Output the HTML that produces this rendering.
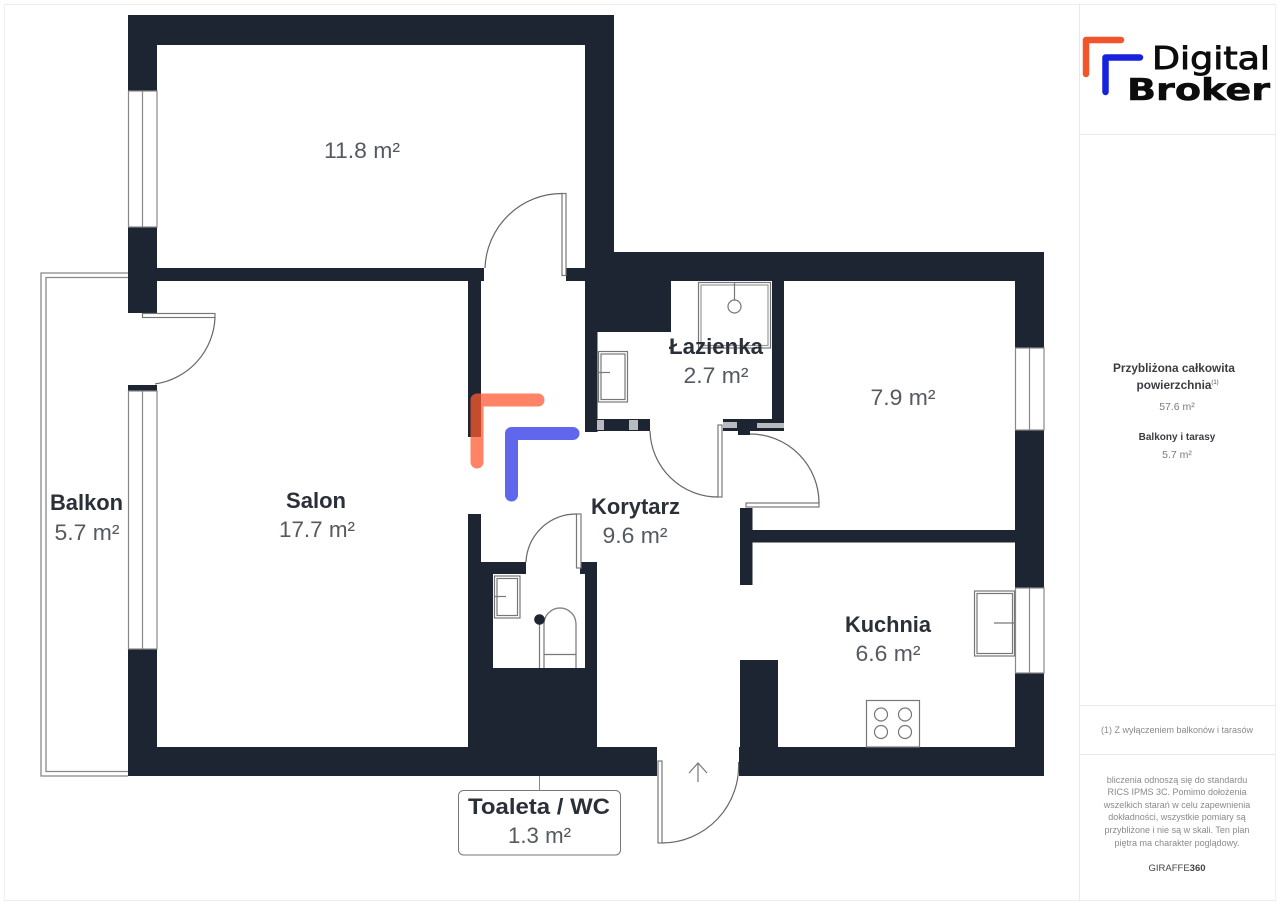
<!DOCTYPE html>
<html><head><meta charset="utf-8"><style>
html,body{margin:0;padding:0;background:#fff;width:1280px;height:905px;overflow:hidden}
svg{display:block}
text{font-family:"Liberation Sans","DejaVu Sans",sans-serif;text-anchor:middle}
.n{font-size:22px;font-weight:bold;fill:#2a2f38}
.a{font-size:22px;fill:#555a60}
.p{font-size:11.500px;font-weight:bold;fill:#3a3d42}
.v{font-size:10.500px;fill:#7a7a7a}
.s{font-size:9px;fill:#8a8a8a}
</style></head><body>
<svg width="1280" height="905" viewBox="0 0 1280 905" xmlns="http://www.w3.org/2000/svg">
<rect width="1280" height="905" fill="#fff"/>
<rect x="4.500" y="4.500" width="1271" height="896" fill="none" stroke="#efefef"/>
<g fill="none" stroke="#e8e8e8"><path d="M1079.500 4V901M1079 134.500H1276M1079 705.500H1276M1079 754.500H1276"/></g>

<!-- balcony -->
<g fill="none" stroke="#888" stroke-width="1.300">
<path d="M128 273H41V776H128"/><path d="M128 277.500H46V771.500H128"/>
</g>

<!-- walls -->
<g fill="#1c2531">
<rect x="128" y="15" width="486" height="30"/>
<rect x="128" y="15" width="29" height="76"/>
<rect x="128" y="227" width="29" height="86"/>
<rect x="128" y="385" width="29" height="6"/>
<rect x="128" y="649" width="29" height="127"/>
<rect x="585" y="15" width="29" height="317"/>
<rect x="157" y="268" width="327" height="13"/>
<rect x="566" y="268" width="20" height="13"/>
<rect x="585" y="252" width="459" height="29"/>
<rect x="585" y="281" width="86" height="51"/>
<rect x="585" y="330" width="12.500" height="102"/>
<rect x="772" y="281" width="12" height="150"/>
<rect x="597" y="419" width="53" height="12"/>
<rect x="723" y="419" width="61" height="12"/>
<rect x="738" y="431" width="12" height="4"/>
<rect x="1015" y="252" width="29" height="96"/>
<rect x="1015" y="430" width="29" height="158"/>
<rect x="1015" y="673" width="29" height="103"/>
<rect x="752" y="530" width="263" height="12.500"/>
<rect x="740" y="508" width="12.500" height="77"/>
<rect x="740" y="660" width="38" height="116"/>
<rect x="128" y="747" width="529" height="29"/>
<rect x="739" y="747" width="305" height="29"/>
<rect x="468" y="281" width="13" height="156"/>
<rect x="468" y="514" width="13" height="262"/>
<rect x="481" y="562" width="45" height="12"/>
<rect x="580" y="562" width="17" height="12"/>
<rect x="481" y="574" width="12" height="173"/>
<rect x="585" y="574" width="12" height="173"/>
<rect x="481" y="668" width="116" height="80"/>
</g>
<!-- grey overlays on bath wall -->
<g fill="#b9bcbf">
<rect x="597" y="420" width="7" height="10"/><rect x="629" y="420" width="9" height="10"/>
<rect x="723" y="422" width="14" height="6"/><rect x="757" y="423" width="27" height="5"/>
</g>

<!-- windows -->
<g fill="#fff" stroke="#888" stroke-width="1.200">
<rect x="128.500" y="91" width="28.500" height="136"/>
<rect x="128.500" y="391" width="28.500" height="258"/>
<rect x="1015.500" y="348" width="28.500" height="82"/>
<rect x="1015.500" y="588" width="28.500" height="85"/>
</g>
<path d="M142.500 91V227M142.500 391V649M1029.500 348V430M1029.500 588V673" stroke="#888" stroke-width="1.200" fill="none"/>

<!-- doors -->
<g fill="#fff" stroke="#777" stroke-width="1.200">
<rect x="562" y="193.500" width="4" height="82"/>
<rect x="142.500" y="313.500" width="72.500" height="4"/>
<rect x="576.500" y="514" width="4.500" height="54"/>
<rect x="718" y="425" width="4" height="72"/>
<rect x="746" y="503" width="73" height="4"/>
<rect x="658" y="761" width="4" height="82"/>
</g>
<g fill="none" stroke="#666" stroke-width="1.200">
<path d="M562 193.500A77 77 0 0 0 485 268"/>
<path d="M215 317.500A70 70 0 0 1 155 384"/>
<path d="M576.500 514A50 50 0 0 0 526 562"/>
<path d="M650 431A68 68 0 0 0 718 497"/>
<path d="M819 503A69 69 0 0 0 750 434"/>
<path d="M662 843A77 77 0 0 0 738.500 762"/>
<path d="M698 782V763M689 773L698 763L707 773" stroke="#777"/>
</g>

<!-- fixtures -->
<g fill="none" stroke="#777" stroke-width="1.200">
<rect x="698.500" y="282.500" width="72" height="65.500"/>
<rect x="701" y="285" width="67" height="60.500" stroke="#999"/>
<circle cx="734.500" cy="306.500" r="6.500"/><path d="M734.500 282V300"/>
<rect x="598.500" y="351.500" width="29" height="50.500"/>
<rect x="601" y="354" width="24" height="45.500"/>
<path d="M598 372.500H610"/>
<rect x="494.500" y="576" width="25.500" height="42"/>
<rect x="497" y="578.500" width="20.500" height="37"/>
<path d="M494 596.500H506"/>
<path d="M539.500 619V668M544 668V624A16 16 0 0 1 576 624V668M544 654.500H576"/>
<rect x="974.500" y="591" width="40" height="65"/>
<rect x="977" y="593.500" width="35.500" height="60"/>
<path d="M994 623H1015"/>
<rect x="866.500" y="700.500" width="53" height="46.500" fill="#fff"/>
<circle cx="881" cy="714.500" r="6.500"/><circle cx="905" cy="714.500" r="6.500"/>
<circle cx="881" cy="732" r="6.500"/><circle cx="905" cy="732" r="6.500"/>
</g>
<circle cx="539.500" cy="619.500" r="5.300" fill="#1c2531"/>

<!-- watermark -->
<path d="M477 462V400H538" fill="none" stroke="#ff5a30" stroke-opacity=".75" stroke-width="13" stroke-linecap="round" stroke-linejoin="round"/>
<path d="M511.500 495V433.500H573" fill="none" stroke="#3e46e8" stroke-opacity=".82" stroke-width="13" stroke-linecap="round" stroke-linejoin="round"/>

<!-- labels -->
<text x="362" y="158" class="a" textLength="76" lengthAdjust="spacingAndGlyphs">11.8 m²</text>
<text x="716" y="354" class="n" textLength="94" lengthAdjust="spacingAndGlyphs">Łazienka</text>
<text x="716" y="383" class="a" textLength="65" lengthAdjust="spacingAndGlyphs">2.7 m²</text>
<text x="903" y="405" class="a" textLength="65" lengthAdjust="spacingAndGlyphs">7.9 m²</text>
<text x="86.500" y="510" class="n" textLength="73" lengthAdjust="spacingAndGlyphs">Balkon</text>
<text x="87" y="540" class="a" textLength="65" lengthAdjust="spacingAndGlyphs">5.7 m²</text>
<text x="316" y="508" class="n" textLength="60" lengthAdjust="spacingAndGlyphs">Salon</text>
<text x="317" y="537" class="a" textLength="76" lengthAdjust="spacingAndGlyphs">17.7 m²</text>
<text x="635.500" y="514" class="n" textLength="89" lengthAdjust="spacingAndGlyphs">Korytarz</text>
<text x="635" y="543" class="a" textLength="65" lengthAdjust="spacingAndGlyphs">9.6 m²</text>
<text x="888" y="632" class="n" textLength="86" lengthAdjust="spacingAndGlyphs">Kuchnia</text>
<text x="888" y="661" class="a" textLength="65" lengthAdjust="spacingAndGlyphs">6.6 m²</text>

<path d="M539.500 776V790" stroke="#888"/>
<rect x="458.500" y="790.500" width="162" height="64.500" rx="5" fill="#fff" stroke="#777"/>
<text x="539" y="814" class="n" textLength="142" lengthAdjust="spacingAndGlyphs">Toaleta / WC</text>
<text x="539.500" y="843" class="a" textLength="63" lengthAdjust="spacingAndGlyphs">1.3 m²</text>

<!-- logo -->
<path d="M1086 74V40H1121" fill="none" stroke="#f2552c" stroke-width="6.500" stroke-linecap="round" stroke-linejoin="round"/>
<path d="M1105.500 92V57.500H1140" fill="none" stroke="#1622dd" stroke-width="6.500" stroke-linecap="round" stroke-linejoin="round"/>
<text x="1211" y="69" textLength="118" lengthAdjust="spacingAndGlyphs" style="font-family:'DejaVu Sans',sans-serif;font-size:31px;fill:#0c0c0c;stroke:#0c0c0c;stroke-width:.9px">Digital</text>
<text x="1198.500" y="100" textLength="143" lengthAdjust="spacingAndGlyphs" style="font-family:'DejaVu Sans',sans-serif;font-size:30px;font-weight:bold;fill:#0c0c0c;stroke:#0c0c0c;stroke-width:.6px">Broker</text>

<!-- panel -->
<text x="1174" y="372" class="p" textLength="122" lengthAdjust="spacingAndGlyphs">Przybliżona całkowita</text>
<text x="1174" y="389" class="p" textLength="75" lengthAdjust="spacingAndGlyphs">powierzchnia</text>
<text x="1215" y="384" style="font-size:6px;fill:#555">(1)</text>
<text x="1177" y="410" class="v">57.6 m²</text>
<text x="1177" y="440" style="font-size:10px;font-weight:bold;fill:#3a3d42">Balkony i tarasy</text>
<text x="1177" y="458" class="v">5.7 m²</text>
<text x="1177" y="733" class="s">(1) Z wyłączeniem balkonów i tarasów</text>
<text x="1177" y="783" class="s">bliczenia odnoszą się do standardu</text>
<text x="1177" y="795" class="s">RICS IPMS 3C. Pomimo dołożenia</text>
<text x="1177" y="808" class="s">wszelkich starań w celu zapewnienia</text>
<text x="1177" y="820" class="s">dokładności, wszystkie pomiary są</text>
<text x="1177" y="833" class="s">przybliżone i nie są w skali. Ten plan</text>
<text x="1177" y="846" class="s">piętra ma charakter poglądowy.</text>
<text x="1177" y="871" style="font-size:9.500px;fill:#444">GIRAFFE<tspan font-weight="bold">360</tspan></text>
</svg>
</body></html>
